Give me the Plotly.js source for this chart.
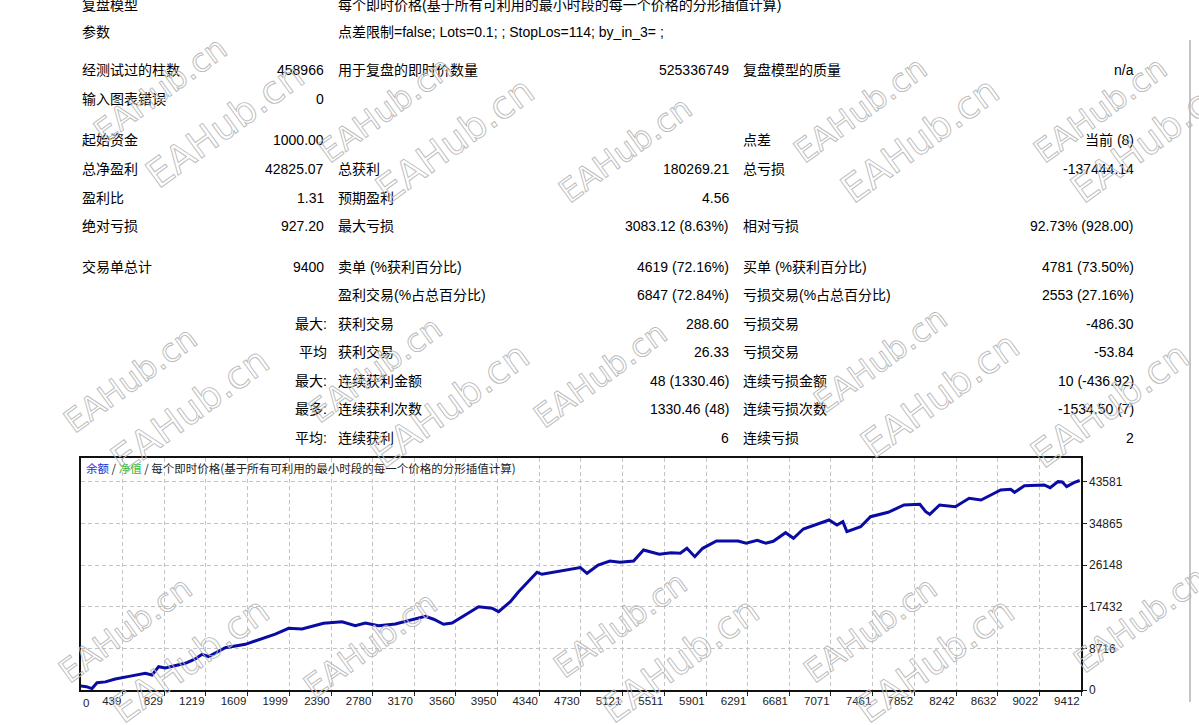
<!DOCTYPE html>
<html><head><meta charset="utf-8">
<script src="https://cdn.plot.ly/plotly-3.0.1.min.js"></script>
<style>html,body{margin:0;padding:0;background:#fff;overflow:hidden}#chart{width:1199px;height:725px}
text.annotation-text[data-unformatted="EAHub.cn"]{fill:none !important;stroke:#b9b9b9 !important;stroke-width:0.9px !important;fill-opacity:0 !important;}
</style>
</head><body><div id="chart"></div>
<script>
// ---------- chart data (balance curve) ----------
const tradeNo = [0,99,152,199,277,370,511,651,714,776,838,1026,1119,1182,1244,1400,1588,1744,1868,1993,2118,2320,2493,2617,2711,2835,2992,3273,3351,3444,3523,3772,3897,3959,4069,4146,4319,4365,4521,4614,4724,4787,4891,5001,5094,5223,5316,5463,5574,5660,5722,5796,5870,5999,6202,6276,6381,6462,6531,6646,6720,6812,6942,7053,7127,7182,7220,7349,7441,7607,7755,7903,7958,7996,8088,8235,8365,8476,8568,8660,8753,8790,8882,9067,9123,9197,9237,9278,9345,9400];
const balance = [1000,700,300,1530,1700,2300,2900,3490,3140,4880,4600,5580,6500,7460,7000,8850,9560,10810,11700,12900,12760,13950,14290,13450,14000,13450,13800,15410,14800,13740,14000,17430,17100,16380,18470,20560,24620,24200,24750,25100,25600,24410,26150,26990,26710,26990,29290,28390,28720,28600,29640,27890,29640,31170,31170,30690,31300,30690,31100,32910,31740,33680,34660,35560,34520,35210,33120,34160,36250,37170,38700,38850,37300,36750,38700,38350,40100,39750,40790,41840,41990,41360,42740,42890,42320,43580,43500,42530,43370,43825];
const xTickLabels = ["0","439","829","1219","1609","1999","2390","2780","3170","3560","3950","4340","4730","5121","5511","5901","6291","6681","7071","7461","7852","8242","8632","9022","9412"];
const yTickLabels = ["0","8716","17432","26148","34865","43581"];
const legendParts = ["余额","净值","每个即时价格(基于所有可利用的最小时段的每一个价格的分形插值计算)"];

// ---------- report table text ----------
const headerLabels = ["复盘模型","参数"];
const headerValues = ["每个即时价格(基于所有可利用的最小时段的每一个价格的分形插值计算)","点差限制=false; Lots=0.1; ; StopLos=114; by_in_3= ;"];
const labelA = ["经测试过的柱数","输入图表错误","起始资金","总净盈利","盈利比","绝对亏损","交易单总计","","","","","",""];
const qualA  = ["","","","","","","","","最大:","平均","最大:","最多:","平均:"];
const valueA = ["458966","0","1000.00","42825.07","1.31","927.20","9400","","","","","",""];
const labelB = ["用于复盘的即时价数量","","","总获利","预期盈利","最大亏损","卖单 (%获利百分比)","盈利交易(%占总百分比)","获利交易","获利交易","连续获利金额","连续获利次数","连续获利"];
const valueB = ["525336749","","","180269.21","4.56","3083.12 (8.63%)","4619 (72.16%)","6847 (72.84%)","288.60","26.33","48 (1330.46)","1330.46 (48)","6"];
const labelC = ["复盘模型的质量","","点差","总亏损","","相对亏损","买单 (%获利百分比)","亏损交易(%占总百分比)","亏损交易","亏损交易","连续亏损金额","连续亏损次数","连续亏损"];
const valueC = ["n/a","","当前 (8)","-137444.14","","92.73% (928.00)","4781 (73.50%)","2553 (27.16%)","-486.30","-53.84","10 (-436.92)","-1534.50 (7)","2"];
const watermarkText = "EAHub.cn";

// ---------- layout constants (pixels) ----------
const W = 1199, H = 725;
const PL = 81, PR = 1081, PT = 458, PB = 690;
const headerY = [5, 32];
const rowY = [70, 99, 140, 169, 197.5, 226, 267, 294.5, 323.5, 352, 381, 409, 438];
const colX = {labelA: 80, qual: 329, valueA: 326, labelB: 336, valueB: 731, labelC: 741, valueC: 1136};
const wmPos = [
  [160,90,32],[225,125,38],[385,110,32],[455,140,38],[625,150,32],[860,110,32],[920,140,38],[1100,110,32],[1150,140,38],
  [130,380,32],[190,410,38],[375,370,32],[450,405,38],[600,375,32],[880,360,32],[940,395,38],[1110,405,38],
  [125,630,32],[190,660,38],[370,645,32],[620,625,32],[680,660,38],[870,630,32],[935,660,38],[1140,620,32]
];

const px = v => (v - PL) / (PR - PL);
const py = v => (PB - v) / (PB - PT);
const FONT = "Liberation Sans, Noto Sans CJK SC, sans-serif";
const tf = {family: FONT, size: 14, color: "#000"};

const ann = [];
function txt(x, y, s, anchor) {
  if (!s) return;
  ann.push({xref: "paper", yref: "paper", x: px(x), y: py(y), text: s, showarrow: false,
    xanchor: anchor, yanchor: "middle", font: tf});
}
headerLabels.forEach((s, i) => { txt(colX.labelA, headerY[i], s, "left"); txt(colX.labelB, headerY[i], headerValues[i], "left"); });
rowY.forEach((y, i) => {
  txt(colX.labelA, y, labelA[i], "left");
  txt(colX.qual, y, qualA[i], "right");
  txt(colX.valueA, y, valueA[i], "right");
  txt(colX.labelB, y, labelB[i], "left");
  txt(colX.valueB, y, valueB[i], "right");
  txt(colX.labelC, y, labelC[i], "left");
  txt(colX.valueC, y, valueC[i], "right");
});
// legend line inside the chart
ann.push({xref: "paper", yref: "paper", x: px(84), y: py(468), xanchor: "left", yanchor: "middle", showarrow: false,
  text: '<span style="color:#2a2ad0">' + legendParts[0] + '</span> / <span style="color:#22c022">' + legendParts[1] + '</span> / ' + legendParts[2],
  font: {family: "Noto Sans CJK SC, sans-serif", size: 11.5, color: "#222"}});
// first x label sits inside the left edge
ann.push({xref: "paper", yref: "paper", x: px(PL), y: py(PB + 5), xanchor: "left", yanchor: "top", showarrow: false,
  text: xTickLabels[0], font: {family: FONT, size: 11.5, color: "#222"}});
wmPos.forEach(p => ann.push({xref: "paper", yref: "paper", x: px(p[0]), y: py(p[1]), xanchor: "center", yanchor: "middle",
  showarrow: false, textangle: -36, text: watermarkText, font: {family: "DejaVu Sans, sans-serif", size: p[2], color: "rgba(190,190,190,0.35)"}}));

const xVals = xTickLabels.slice(1).map(Number);

const trace = {x: tradeNo, y: balance, type: "scatter", mode: "lines",
  line: {color: "#0a0aa4", width: 3}, hoverinfo: "skip"};

const layout = {
  width: W, height: H, paper_bgcolor: "#fff", plot_bgcolor: "#fff", showlegend: false,
  margin: {l: PL, r: W - PR, t: PT, b: H - PB, pad: 0, autoexpand: false},
  xaxis: {range: [49, xVals[xVals.length - 1]], tickvals: xVals, ticktext: xTickLabels.slice(1),
    ticklabelposition: "outside left", ticks: "outside", ticklen: 4, tickcolor: "#222", tickwidth: 1,
    showgrid: true, gridcolor: "#c4c4c4", griddash: "4px,3px", gridwidth: 1, zeroline: false,
    showline: true, mirror: true, linecolor: "#111", linewidth: 1.6, automargin: false,
    tickfont: {family: FONT, size: 11.5, color: "#222"}, fixedrange: true},
  yaxis: {range: [0, 48530], tickvals: yTickLabels.map(Number), ticktext: yTickLabels, side: "right",
    ticks: "outside", ticklen: 4, tickcolor: "#222", showgrid: true, gridcolor: "#c4c4c4", griddash: "4px,3px",
    zeroline: false, showline: true, mirror: true, linecolor: "#111", linewidth: 1.6, automargin: false,
    tickfont: {family: FONT, size: 12, color: "#222"}, fixedrange: true},
  shapes: [{type: "line", xref: "paper", yref: "paper", x0: px(1190), x1: px(1190), y0: py(40), y1: py(702),
    line: {color: "#8a8a8a", width: 1}}],
  annotations: ann
};

Plotly.newPlot("chart", [trace], layout, {staticPlot: true, displayModeBar: false});
</script></body></html>
